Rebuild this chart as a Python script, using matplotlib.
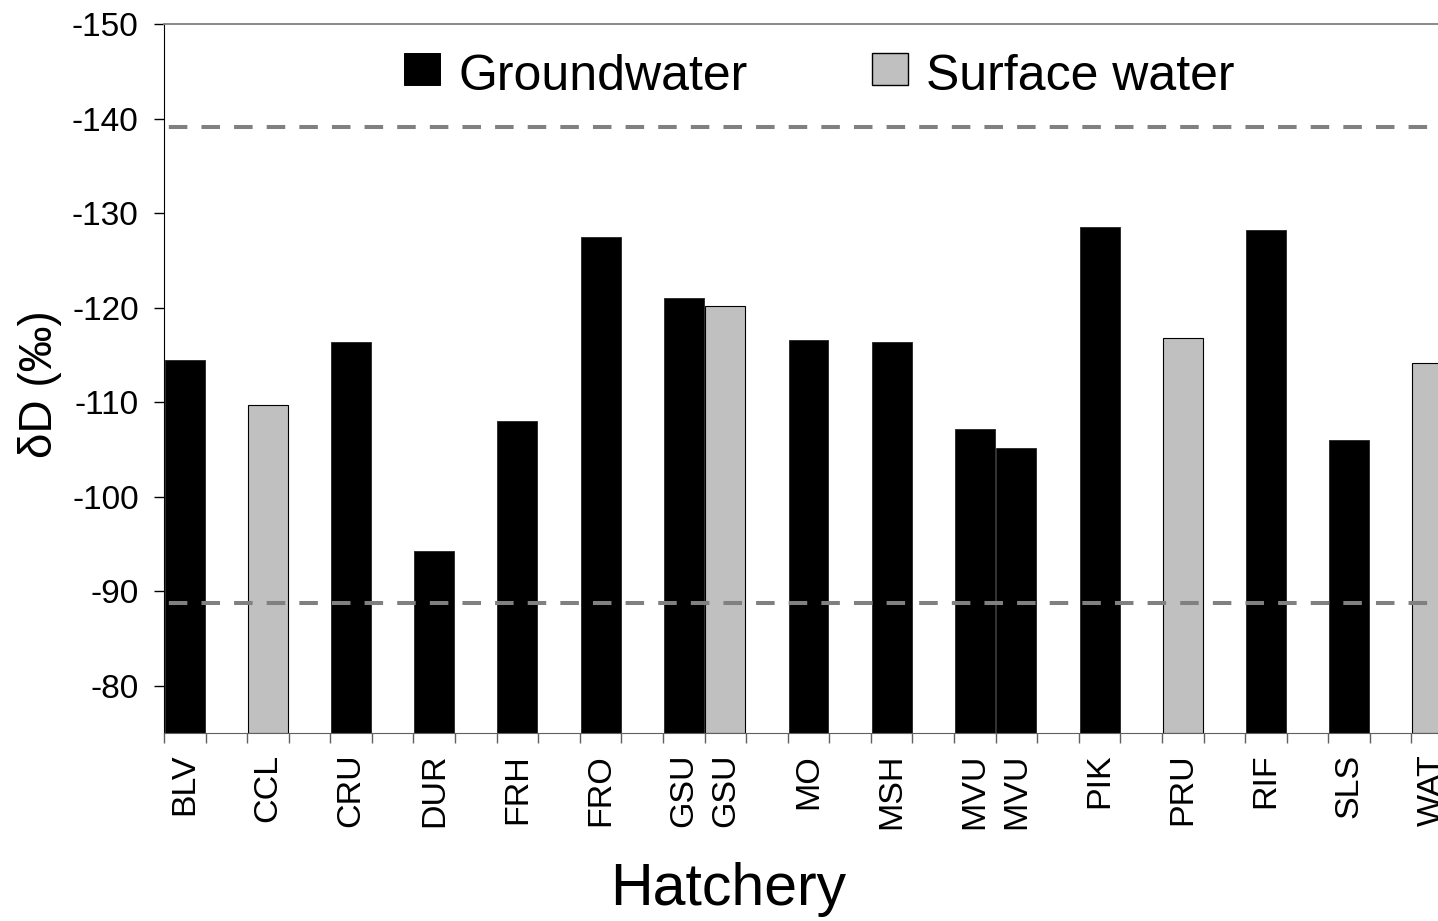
import numpy as np
import matplotlib.pyplot as plt
from matplotlib.patches import Patch, Rectangle
from matplotlib.legend_handler import HandlerPatch

plt.rcParams['font.family'] = ['Liberation Sans', 'DejaVu Sans']
plt.rcParams['axes.unicode_minus'] = False

# category slots, blanks keep the spacing between hatcheries
hatchery = ["BLV", "", "CCL", "", "CRU", "", "DUR", "", "FRH", "", "FRO", "",
            "GSU", "GSU", "", "MO", "", "MSH", "", "MVU", "MVU", "", "PIK", "",
            "PRU", "", "RIF", "", "SLS", "", "WAT"]
groundwater = [-114.5, None, None, None, -116.4, None, -94.3, None, -108.0, None,
               -127.5, None, -121.0, None, None, -116.55, None, -116.4, None,
               -107.2, -105.2, None, -128.5, None, None, None, -128.2, None,
               -106.0, None, None]
surface = [None, None, -109.7, None, None, None, None, None, None, None,
           None, None, None, -120.2, None, None, None, None, None,
           None, None, None, None, None, -116.8, None, None, None,
           None, None, -114.1]
ref_lines = [-139.1, -88.8]
y_ticks = [-80, -90, -100, -110, -120, -130, -140, -150]

base = -75
x = np.arange(len(hatchery))
gw = np.array(groundwater, dtype=float)
sw = np.array(surface, dtype=float)
mg = ~np.isnan(gw)
ms = ~np.isnan(sw)

fig = plt.figure(figsize=(14.38, 9.21), dpi=100)
ax = fig.add_axes([164/1438, 188/921, 1274/1438, 709/921])

ax.bar(x[mg], gw[mg] - base, bottom=base, width=0.96, color='black',
       edgecolor='#303030', linewidth=0.7, label='Groundwater', zorder=2)
ax.bar(x[ms], sw[ms] - base, bottom=base, width=0.96, color='#C0C0C0',
       edgecolor='black', linewidth=0.8, label='Surface water', zorder=2)

for v in ref_lines:
    ax.axhline(v, color='#808080', lw=2.9, linestyle=(6.9, (4.6, 3.5)), zorder=3)

ax.set_yticks(y_ticks)
ax.set_yticklabels([str(t) for t in y_ticks], fontsize=24)
ax.tick_params(axis='y', direction='out', length=7.2, width=1, color='black', pad=11)

ax.set_xticks(np.arange(len(hatchery) + 1) - 0.5)
ax.set_xticklabels([])
ax.tick_params(axis='x', which='major', direction='out', length=7.2, width=1, color='#606060')
ax.set_xticks(x, hatchery, minor=True, rotation=90, fontsize=24.5)
ax.tick_params(axis='x', which='minor', length=0, pad=15)

# limits last, set_xticks would widen them
ax.set_xlim(-0.5, -0.5 + 1274/41.58)
ax.set_ylim(base, -150)

ax.spines['right'].set_visible(False)
ax.spines['top'].set_color('#808080')
ax.spines['top'].set_linewidth(1.3)
ax.spines['bottom'].set_color('#606060')
ax.spines['left'].set_color('black')

fig.text(40/1438, 1 - 384/921, "δD (‰)", rotation=90, fontsize=33,
         ha='center', va='center')
fig.text(728/1438, 1 - 889/921, "Hatchery", fontsize=42.5, ha='center', va='center')


def raised_box(legend, orig_handle, xdescent, ydescent, width, height, fontsize):
    return Rectangle((-xdescent, -ydescent + 2), width, height)


handles = [Patch(facecolor='black', edgecolor='black', linewidth=0.7),
           Patch(facecolor='#C0C0C0', edgecolor='black', linewidth=1)]
fig.legend(handles, ['Groundwater', 'Surface water'], loc='center left',
           bbox_to_anchor=(404/1438, 1 - 76.5/921), ncol=2, frameon=False,
           fontsize=36, handlelength=0.72, handleheight=0.62,
           handletextpad=0.36, columnspacing=2.5, borderpad=0, borderaxespad=0,
           handler_map={Patch: HandlerPatch(patch_func=raised_box)})

fig.savefig('out.png', dpi=100)
